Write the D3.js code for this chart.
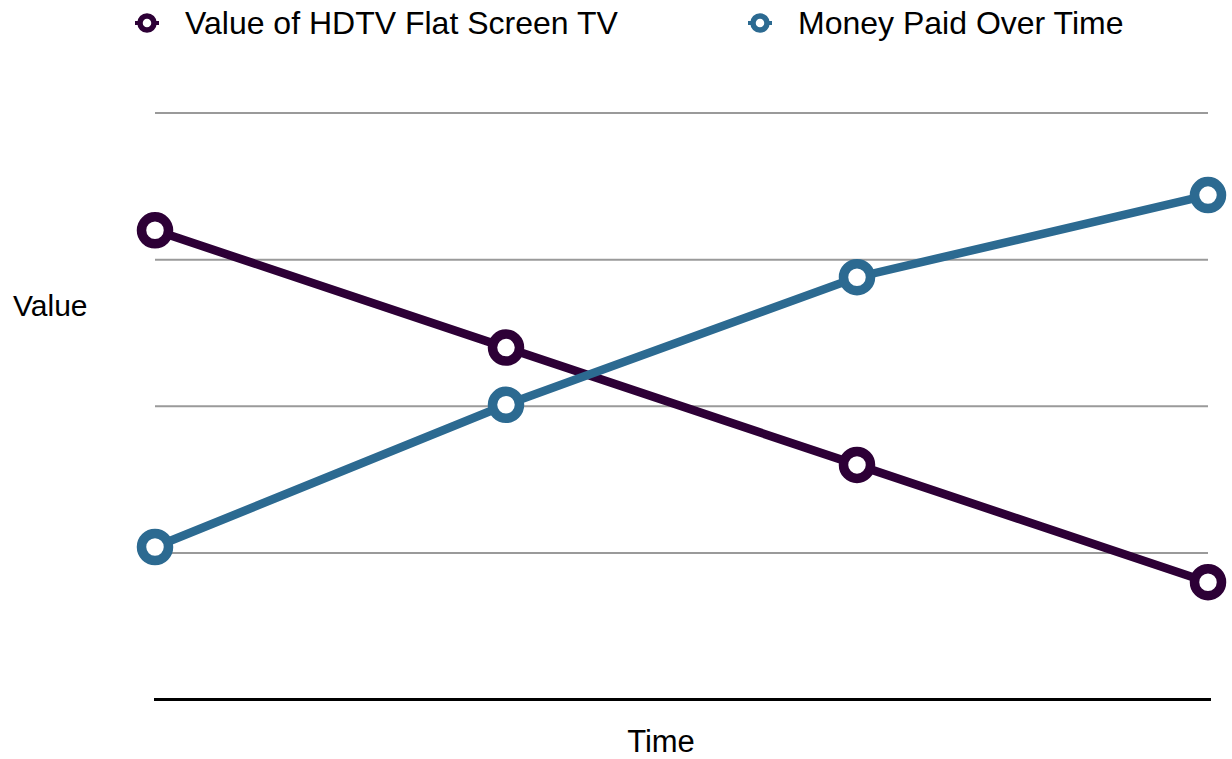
<!DOCTYPE html>
<html>
<head>
<meta charset="utf-8">
<script src="https://cdn.jsdelivr.net/npm/d3@7"></script>
<style>
  body { margin: 0; background: #fff; }
  text { font-family: "Liberation Sans", Arial, Helvetica, sans-serif; fill: #000; }
</style>
</head>
<body>
<script>
// Chart data
var periods = ["t1", "t2", "t3", "t4"];
var tvValue = [3.2, 2.4, 1.6, 0.8];
var moneyPaid = [1.04, 2.01, 2.88, 3.44];
var gridTicks = [1, 2, 3, 4];
var seriesNames = ["Value of HDTV Flat Screen TV", "Money Paid Over Time"];
var seriesColors = ["#2d0036", "#2c6a91"];

var svgWidth = 1232;
var svgHeight = 759;

var svg = d3.select("body")
  .append("svg")
  .attr("width", svgWidth)
  .attr("height", svgHeight);

// scales
var xScale = d3.scalePoint()
  .domain(periods)
  .range([155, 1208]);

var yScale = d3.scaleLinear()
  .domain([0, 4])
  .range([699.5, 113]);

// gridlines
svg.append("g")
  .selectAll("line")
  .data(gridTicks)
  .enter()
  .append("line")
  .attr("x1", 155)
  .attr("x2", 1208)
  .attr("y1", d => yScale(d))
  .attr("y2", d => yScale(d))
  .attr("stroke", "#9a9a9a")
  .attr("stroke-width", 2);

// x axis baseline
var bottomAxis = d3.axisBottom(xScale).tickSize(0).tickFormat("");
var xAxisGroup = svg.append("g")
  .attr("transform", `translate(0, ${yScale(0)})`)
  .call(bottomAxis);
xAxisGroup.select(".domain")
  .attr("d", "M154,0H1211")
  .attr("stroke", "#000")
  .attr("stroke-width", 3);

// axis titles
svg.append("text")
  .attr("x", 13)
  .attr("y", 316)
  .style("font-size", "30px")
  .text("Value");

svg.append("text")
  .attr("x", 661)
  .attr("y", 752)
  .attr("text-anchor", "middle")
  .style("font-size", "31px")
  .text("Time");

// lines + markers
var series = [tvValue, moneyPaid];
var line = d3.line()
  .x((d, i) => xScale(periods[i]))
  .y(d => yScale(d));

series.forEach(function (values, s) {
  svg.append("path")
    .datum(values)
    .attr("d", line)
    .attr("fill", "none")
    .attr("stroke", seriesColors[s])
    .attr("stroke-width", 8.5);

  svg.append("g")
    .selectAll("circle")
    .data(values)
    .enter()
    .append("circle")
    .attr("cx", (d, i) => xScale(periods[i]))
    .attr("cy", d => yScale(d))
    .attr("r", 13.5)
    .attr("fill", "#fff")
    .attr("stroke", seriesColors[s])
    .attr("stroke-width", 9.5);
});

// legend
var legendX = [147, 760];
var legend = svg.append("g")
  .selectAll("g")
  .data(seriesNames)
  .enter()
  .append("g")
  .attr("transform", (d, i) => `translate(${legendX[i]}, 23)`);

legend.append("line")
  .attr("x1", -12)
  .attr("x2", 12)
  .attr("stroke", (d, i) => seriesColors[i])
  .attr("stroke-width", 4);

legend.append("circle")
  .attr("r", 7)
  .attr("fill", "#fff")
  .attr("stroke", (d, i) => seriesColors[i])
  .attr("stroke-width", 5.5);

legend.append("text")
  .attr("x", 38)
  .attr("y", 11)
  .style("font-size", "32px")
  .text(d => d);
</script>
</body>
</html>
